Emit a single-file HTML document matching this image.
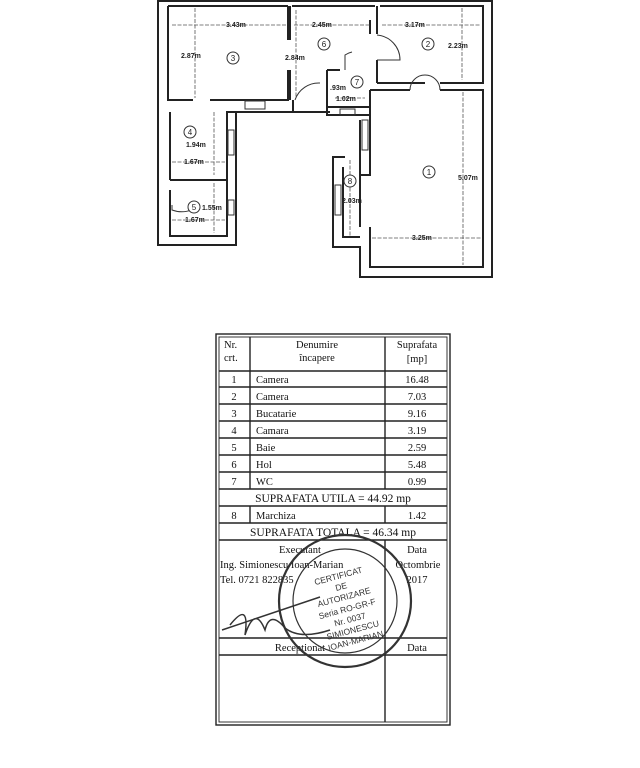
<!DOCTYPE html>
<html><head><meta charset="utf-8"><style>
html,body{margin:0;padding:0;background:#fff}
svg{display:block}
.t{font-family:"Liberation Serif",serif;fill:#111}
.d{font-family:"Liberation Sans",sans-serif;font-size:7px;fill:#222;font-weight:bold}
</style></head><body>
<svg width="640" height="768" viewBox="0 0 640 768" xmlns="http://www.w3.org/2000/svg">
<rect width="640" height="768" fill="#fff"/>
<g stroke="#222" stroke-width="2" fill="none">
<path d="M158 0 V245 H236 V112 H293"/>
<path d="M158 1 H492"/>
<path d="M168 6 H288 M292 6 H375 M380 6 H483 V83 H440 M425 83 H377"/>
<path d="M492 0 V277 H360 V247 H333 V157 H345"/>
<path d="M168 6 V100 H193 M210 100 H288 V70 M288 6 V40"/>
<path d="M170 112 V180 M170 190 V236 H227 V112 H238"/>
<path d="M170 180 H227"/>
<path d="M377 6 V34 M370 20 V34 M377 60 V83"/>
<path d="M370 90 H410 M440 90 H483 V267 H370 V227"/>
<path d="M370 90 V175 H360 V120 M360 175 V227"/>
<path d="M343 167 V237 H360"/>
<path d="M293 100 V112 H330 M327 70 V115 H370 M327 70 H340 M327 107 H370"/>
<path d="M290 6 V40 M290 70 V100"/>
</g>
<g stroke="#333" stroke-width="1" fill="none">
<rect x="245" y="101" width="20" height="8"/>
<rect x="228" y="130" width="6" height="25"/>
<rect x="228" y="200" width="6" height="15"/>
<rect x="335" y="185" width="6" height="30"/>
<rect x="362" y="120" width="6" height="30"/>
<rect x="340" y="109" width="15" height="6"/>
<path d="M377 35 A25 25 0 0 1 400 60 H377"/>
<path d="M410 90 A15 15 0 0 1 440 90"/>
<path d="M295 100 A25 25 0 0 1 320 83"/>
<path d="M345 70 V55 A20 20 0 0 1 352 52"/>
<path d="M172 205 V210 A28 28 0 0 0 200 205"/>
</g>
<g stroke="#555" stroke-width="0.8" stroke-dasharray="4 1.5">
<path d="M172 25 H286 M294 25 H370 M382 25 H481"/>
<path d="M195 8 V98 M296 10 V98 M462 8 V80"/>
<path d="M214 112 V175 M172 162 H225 M214 183 V233 M172 220 H225"/>
<path d="M463 92 V265 M372 238 H481 M350 160 V237 M335 98 H365"/>
</g>
<g class="d">
<text x="226" y="27">3.43m</text>
<text x="312" y="27">2.45m</text>
<text x="405" y="27">3.17m</text>
<text x="181" y="58">2.87m</text>
<text x="285" y="60">2.84m</text>
<text x="448" y="48">2.23m</text>
<text x="330" y="90">.93m</text>
<text x="336" y="101">1.02m</text>
<text x="186" y="147">1.94m</text>
<text x="184" y="164">1.67m</text>
<text x="202" y="210">1.55m</text>
<text x="185" y="222">1.67m</text>
<text x="342" y="203">2.03m</text>
<text x="458" y="180">5.07m</text>
<text x="412" y="240">3.25m</text>
</g>
<g stroke="#333" stroke-width="1" fill="#fff">
<circle cx="233" cy="58" r="6"/><circle cx="324" cy="44" r="6"/><circle cx="428" cy="44" r="6"/>
<circle cx="357" cy="82" r="6"/><circle cx="190" cy="132" r="6"/><circle cx="194" cy="207" r="6"/>
<circle cx="350" cy="181" r="6"/><circle cx="429" cy="172" r="6"/>
</g>
<g class="d" text-anchor="middle" style="font-size:8px;font-weight:normal">
<text x="233" y="61">3</text><text x="324" y="47">6</text><text x="428" y="47">2</text>
<text x="357" y="85">7</text><text x="190" y="135">4</text><text x="194" y="210">5</text>
<text x="350" y="184">8</text><text x="429" y="175">1</text>
</g>
<g stroke="#222" stroke-width="1.4" fill="none">
<rect x="216" y="334" width="234" height="391"/>
<rect x="219" y="337" width="228" height="385" stroke-width="0.9"/>
<path d="M250 337 V489 M385 337 V489 M250 506 V523 M385 506 V523"/>
<path d="M385 540 V722 M219 371 H447 M219 387 H447 M219 404 H447 M219 421 H447 M219 438 H447 M219 455 H447 M219 472 H447 M219 489 H447 M219 506 H447 M219 523 H447 M219 540 H447 M219 638 H447 M219 655 H447"/>
</g>
<g class="t" font-size="10.5">
<text x="224" y="348">Nr.</text><text x="224" y="361">crt.</text>
<text x="317" y="348" text-anchor="middle">Denumire</text><text x="317" y="361" text-anchor="middle">încapere</text>
<text x="417" y="348" text-anchor="middle">Suprafata</text><text x="417" y="362" text-anchor="middle">[mp]</text>
<g text-anchor="middle"><text x="234" y="383">1</text><text x="234" y="400">2</text><text x="234" y="417">3</text><text x="234" y="434">4</text><text x="234" y="451">5</text><text x="234" y="468">6</text><text x="234" y="485">7</text><text x="234" y="519">8</text>
<text x="417" y="383">16.48</text><text x="417" y="400">7.03</text><text x="417" y="417">9.16</text><text x="417" y="434">3.19</text><text x="417" y="451">2.59</text><text x="417" y="468">5.48</text><text x="417" y="485">0.99</text><text x="417" y="519">1.42</text></g>
<text x="256" y="383">Camera</text><text x="256" y="400">Camera</text><text x="256" y="417">Bucatarie</text><text x="256" y="434">Camara</text><text x="256" y="451">Baie</text><text x="256" y="468">Hol</text><text x="256" y="485">WC</text><text x="256" y="519">Marchiza</text>
<text x="333" y="502" text-anchor="middle" font-size="11.5">SUPRAFATA  UTILA = 44.92 mp</text>
<text x="333" y="536" text-anchor="middle" font-size="11.5">SUPRAFATA  TOTALA = 46.34 mp</text>
<text x="300" y="553" text-anchor="middle">Executant</text>
<text x="220" y="568">Ing. Simionescu Ioan-Marian</text>
<text x="220" y="583">Tel. 0721 822835</text>
<text x="417" y="553" text-anchor="middle">Data</text>
<text x="418" y="568" text-anchor="middle">Octombrie</text>
<text x="417" y="583" text-anchor="middle">2017</text>
<text x="300" y="651" text-anchor="middle">Receptionat</text>
<text x="417" y="651" text-anchor="middle">Data</text>
</g>
<g stroke="#333" fill="none">
<circle cx="345" cy="601" r="66" stroke-width="2.2"/>
<circle cx="345" cy="601" r="52" stroke-width="1.2"/>
<path d="M222 630 L320 597 M230 625 Q250 600 245 635 Q255 605 265 630 Q270 610 285 628 Q300 640 330 630" stroke-width="1.5"/>
</g>
<g font-size="8.5" fill="#333" transform="rotate(-15 345 601)" text-anchor="middle" style="font-family:'Liberation Sans',sans-serif">
<text x="345" y="578">CERTIFICAT</text><text x="345" y="589">DE</text><text x="345" y="600">AUTORIZARE</text>
<text x="345" y="612">Seria RO-GR-F</text><text x="345" y="623">Nr. 0037</text><text x="345" y="634">SIMIONESCU</text><text x="345" y="645">IOAN-MARIAN</text>
</g>
</svg>
</body></html>
